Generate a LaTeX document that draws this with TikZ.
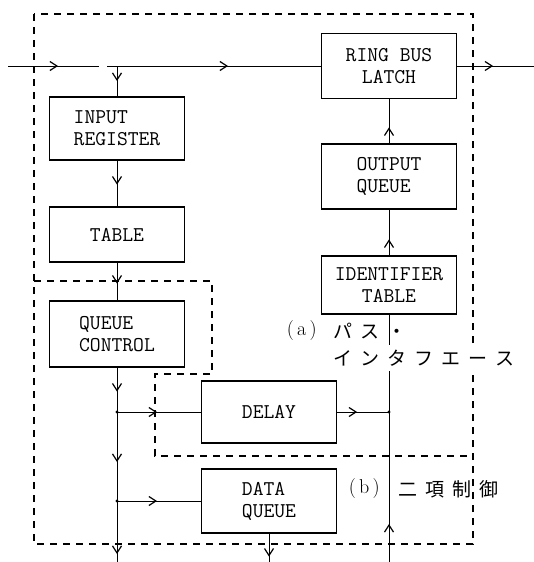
\documentclass[tikz,border=0pt]{standalone}
\usepackage{fontspec}
\newfontfamily\jpfont{Noto Sans CJK JP}
\usetikzlibrary{arrows.meta,decorations.markings}
\newcommand{\jsp}{\hspace{8pt}}
\tikzset{
  blk/.style={draw,line width=1.2pt,minimum width=135pt,inner sep=0pt,align=left,
    font=\ttfamily\fontsize{21}{22}\selectfont},
  ln/.style={line width=1pt},
  arr/.style={postaction={decorate},decoration={markings,
    mark=at position #1 with {\arrow{Straight Barb[length=7pt,width=9pt,line width=1.2pt]}}}},
  dsh/.style={line width=1.3pt,dash pattern=on 7pt off 6pt},
  jp/.style={inner sep=0pt,font=\jpfont\fontsize{19}{19}\selectfont},
  lbl/.style={inner sep=0pt,font=\fontsize{20}{20}\selectfont},
}
\begin{document}
\begin{tikzpicture}[x=1pt,y=-1pt]
\useasboundingbox (0,0) rectangle (534,562);
% dashed region boundaries
\draw[dsh] (34,14) rectangle (473,544);
\draw[dsh] (34,281) -- (212,281) -- (212,374) -- (155,374) -- (155,456) -- (473,456);
% blocks
\node[blk,minimum height=65pt,align=center] (ring) at (389,66) {RING BUS\\LATCH};
\node[blk,minimum height=63pt] (inreg) at (117,128.5) {INPUT\\REGISTER};
\node[blk,minimum height=55pt,align=center] (table) at (117,234.5) {TABLE};
\node[blk,minimum height=66pt] (qc) at (117,334) {QUEUE\\CONTROL};
\node[blk,minimum height=62pt,align=center] (delay) at (269,412) {DELAY};
\node[blk,minimum height=64pt] (dq) at (269,501) {DATA\\QUEUE};
\node[blk,minimum height=65pt] (outq) at (389,176.5) {OUTPUT\\QUEUE};
\node[blk,minimum height=58pt,align=center] (ident) at (389,285) {IDENTIFIER\\TABLE};
% coordinates
\coordinate (inL) at (8,66);
\coordinate (gapL) at (99,66);
\coordinate (gapR) at (107,66);
\coordinate (J0) at (117,66);
\coordinate (outR) at (534,66);
\coordinate (J1) at (117,412);
\coordinate (J2) at (117,501);
\coordinate (Lbot) at (117,562);
\coordinate (J3) at (389,412);
\coordinate (Rbot) at (389,562);
\coordinate (Dbot) at (269,562);
% connectors
\draw[ln,arr=50pt] (inL) -- (gapL);
\draw[ln,arr=121pt] (gapR) -- (ring.west);
\draw[ln,arr=15pt] (J0) -- (inreg.north);
\draw[ln,arr=24pt] (inreg.south) -- (table.north);
\draw[ln,arr=21pt] (table.south) -- (qc.north);
\draw[ln,arr=24pt] (qc.south) -- (J1);
\draw[ln,arr=50pt] (J1) -- (J2);
\draw[ln,arr=53pt] (J2) -- (Lbot);
\draw[ln,arr=40pt] (J1) -- (delay.west);
\draw[ln,arr=40pt] (J2) -- (dq.west);
\draw[ln,arr=20pt] (delay.east) -- (J3);
\draw[ln,arr=38pt] (Rbot) -- (ident.south);
\draw[ln,arr=16pt] (ident.north) -- (outq.south);
\draw[ln,arr=16pt] (outq.north) -- (ring.south);
\draw[ln,arr=36pt] (ring.east) -- (outR);
\draw[ln,arr=23pt] (dq.south) -- (Dbot);
\fill (J1) circle (1.6pt);
\fill (J2) circle (1.6pt);
\fill (J3) circle (1.6pt);
% labels
\node[lbl,anchor=east] (alab) at (317,331) {(\,a\,)};
\node[jp,anchor=west] (a1) at (333,331) {パ\jsp ス\jsp ・};
\node[jp,anchor=west,fill=white,inner ysep=5pt] (a2) at (333,358) {イ\jsp ン\jsp タ\jsp フ\jsp エ\jsp ー\jsp ス};
\node[lbl,anchor=east] (blab) at (380,489) {(\,b\,)};
\node[jp,anchor=west] (b1) at (398,489) {二\jsp 項\jsp 制\jsp 御};
\end{tikzpicture}
\end{document}
